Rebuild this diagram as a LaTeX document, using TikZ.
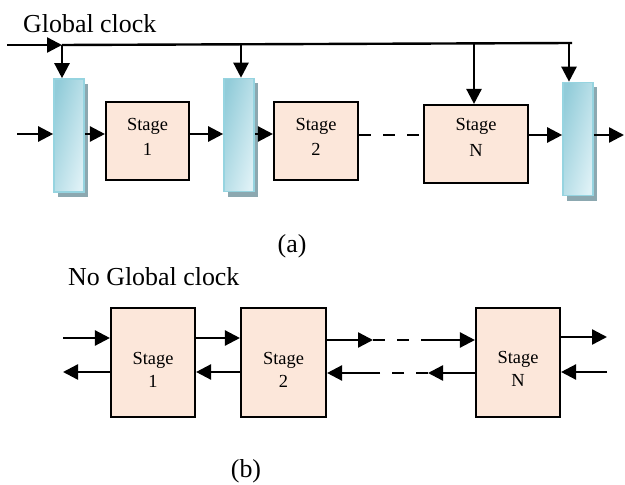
\documentclass[tikz,border=0pt]{standalone}
\usepackage{fontspec}
\setmainfont{Liberation Serif}
\usetikzlibrary{arrows.meta,shadows,calc}
\definecolor{peach}{RGB}{252,231,218}
\definecolor{latchblue}{RGB}{146,204,217}
\definecolor{latchlight}{RGB}{222,241,246}
\definecolor{latchedge}{RGB}{150,212,224}
\definecolor{latchshadow}{RGB}{140,168,176}

\begin{document}
\begin{tikzpicture}[x=1bp,y=-1bp,
  wire/.style={line width=2.4bp},
  arr/.style={wire,-{Triangle[length=15bp,width=15bp]}},
  gap/.style={wire,dash pattern=on 12bp off 12bp},
  stagebox/.style={draw,line width=2.1bp,fill=peach,inner sep=0pt},
  stagetext/.style={align=center,inner sep=0pt,font=\fontsize{18.5}{25.5}\selectfont},
  stagetextb/.style={align=center,inner sep=0pt,font=\fontsize{18.5}{23}\selectfont},
  latch/.style={draw=latchedge,line width=1.6bp,minimum width=30bp,minimum height=113bp,inner sep=0pt,
    left color=latchblue,right color=latchlight,shading angle=75,
    drop shadow={shadow xshift=4bp,shadow yshift=-5bp,fill=latchshadow,opacity=1}},
  caption/.style={font=\fontsize{26}{30}\selectfont,inner sep=0pt}]

\useasboundingbox (0,0) rectangle (625,485);

% ---------- (a) clocked pipeline ----------
\node[latch] (L1) at (69,135.5) {};
\node[latch] (L2) at (239,135) {};
\node[latch] (L3) at (578,139) {};

\node[stagebox,minimum width=83bp,minimum height=78bp] (s1) at (147.5,141) {};
\node[stagebox,minimum width=84bp,minimum height=78bp] (s2) at (316,141) {};
\node[stagebox,minimum width=104bp,minimum height=78bp] (sN) at (476,144) {};
\node[stagetext] (s1t) at (147.5,137) {Stage\\1};
\node[stagetext] (s2t) at (316,137) {Stage\\2};
\node[stagetext] (sNt) at (476,137.5) {Stage\\N};

% global clock line and its taps
\coordinate (clkin) at (7,45);
\coordinate (t1) at (62,45);
\coordinate (t2) at (241,44.3);
\coordinate (t3) at (474,43.4);
\coordinate (t4) at (569,43);
\coordinate (tend) at (572,43);
\draw[arr] (clkin) -- (t1);
\draw[wire] (t1) -- (tend);
\draw[arr] (t1) -- (t1 |- L1.north);
\draw[arr] (t2) -- (t2 |- L2.north);
\draw[arr] (t3) -- (t3 |- sN.north);
\draw[arr] (t4) -- (t4 |- L3.north);

% data path
\coordinate (ain) at (17,134);
\coordinate (aout) at (624,135);
\draw[arr] (ain) -- (ain -| L1.west);
\draw[arr] (L1.east |- ain) -- (s1.west |- ain);
\draw[arr] (s1.east |- ain) -- (L2.west |- ain);
\draw[arr] (L2.east |- ain) -- (s2.west |- ain);
\draw[gap] (s2.east |- aout) -- (sN.west |- aout);
\draw[arr] (sN.east |- aout) -- (L3.west |- aout);
\draw[arr] (L3.east |- aout) -- (aout);

\node[caption,anchor=base west] (gc) at (23,33) {Global clock};
\node[caption,anchor=base] (capa) at (292,252) {(a)};

% ---------- (b) handshake pipeline ----------
\node[caption,anchor=base west] (ngc) at (68,285) {No Global clock};

\node[stagebox,minimum width=84bp,minimum height=109bp] (b1) at (153,362.5) {};
\node[stagebox,minimum width=85bp,minimum height=109bp] (b2) at (283.5,362.5) {};
\node[stagebox,minimum width=84bp,minimum height=109bp] (bN) at (518,362.5) {};
\node[stagetextb] (b1t) at (153,369.5) {Stage\\1};
\node[stagetextb] (b2t) at (283.5,369.5) {Stage\\2};
\node[stagetextb] (bNt) at (518,369) {Stage\\N};

\coordinate (bin) at (63,338);
\coordinate (bout) at (63,372);
\draw[arr] (bin) -- (bin -| b1.west);
\draw[arr] (b1.west |- bout) -- (bout);
\draw[arr] (b1.east |- bin) -- (b2.west |- bin);
\draw[arr] (b2.west |- bout) -- (b1.east |- bout);

\coordinate (fa) at (373,340);
\coordinate (fb) at (428,340);
\draw[arr] (b2.east |- fa) -- (fa);
\draw[gap] (fa) -- (fb);
\draw[arr] (fb) -- (fb -| bN.west);

\coordinate (ra) at (428,373);
\coordinate (rb) at (373,373);
\draw[arr] (bN.west |- ra) -- (ra);
\draw[gap] (ra) -- (rb);
\draw[arr] (rb) -- (rb -| b2.east);

\coordinate (oa) at (607,337);
\coordinate (ob) at (607,372);
\draw[arr] (bN.east |- oa) -- (oa);
\draw[arr] (ob) -- (ob -| bN.east);

\node[caption,anchor=base] (capb) at (246,477) {(b)};
\end{tikzpicture}
\end{document}
